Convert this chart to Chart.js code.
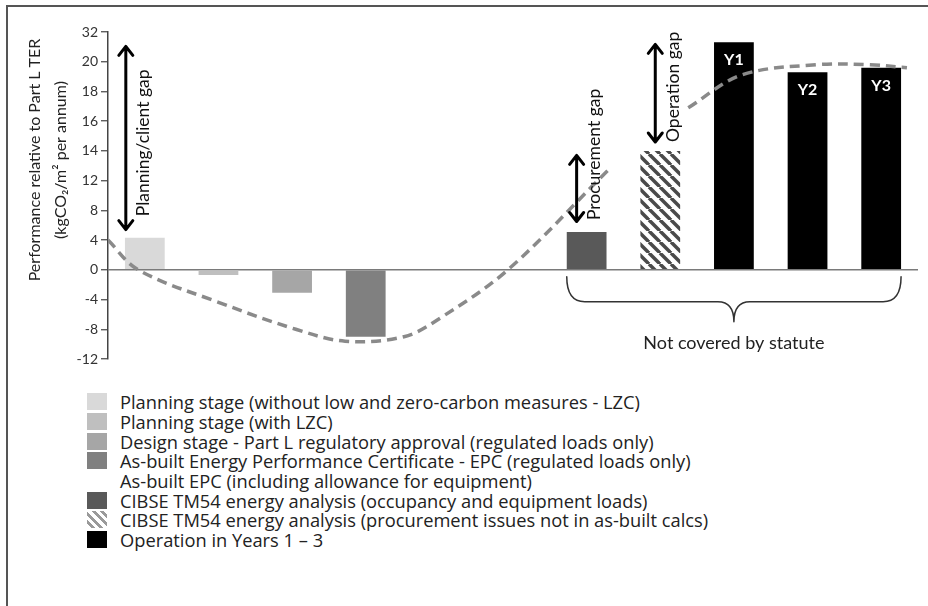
<!DOCTYPE html>
<html>
<head>
<meta charset="utf-8">
<script src="https://cdn.jsdelivr.net/npm/chart.js"></script>
<style>
    body { margin: 0; background: #fff; font-family: "Open Sans", sans-serif; }
    #wrap { position: relative; width: 928px; height: 606px; overflow: hidden; }
    #frame { position: absolute; left: 6px; top: 5px; width: 940px; height: 620px; border-top: 2px solid #555; border-left: 2px solid #555; }
    #chart { position: absolute; left: 0; top: 0; }
    #legend { position: absolute; left: 87px; top: 392px; color: #222; font-size: 18.3px; }
    .leg-row { display: flex; align-items: center; height: 19.7px; white-space: nowrap; }
    .swatch { width: 20px; height: 17px; margin-right: 13px; flex: none; }
</style>
</head>
<body>
<div id="wrap">
    <div id="frame"></div>
    <canvas id="chart" width="928" height="380"></canvas>
    <div id="legend"></div>
</div>
<script>
// y axis is not linear: ticks are evenly spaced but carry these labels
const tickLabels = [-12, -8, -4, 0, 4, 8, 12, 14, 16, 18, 20, 32];

const categories = [
    'Planning stage (without LZC)', 'Planning stage (with LZC)', 'Design stage - Part L',
    'As-built EPC', 'As-built EPC (incl. equipment)', '',
    'CIBSE TM54 (occupancy)', 'CIBSE TM54 (procurement)', 'Y1', 'Y2', 'Y3'
];
const values = [4.3, -0.7, -3.1, -9.0, null, null, 5.1, 14.0, 27.9, 19.3, 19.6];

// dashed trend curve, x in category slots
const curveX = [0, 0.41, 1.51, 2.55, 3.22, 4.02, 4.51, 5.43, 6.79, 7.3, 7.88, 8.6, 9.63, 10.35, 10.85];
const curveY = [4, 0, -4.4, -8, -9.6, -9.0, -6.5, 0, 12.7, null, 16.9, 19.1, 19.8, 19.8, 19.6];

const yearLabels = ['Y1', 'Y2', 'Y3'];
const yearCats = [8, 9, 10];

const gapLabels = ['Planning/client gap', 'Procurement gap', 'Operation gap'];
const gapCats = [0, 6, 7];
const gapFrom = [5.4, 6.5, 14.6];
const gapTo = [26.2, 13.7, 27.0];
const gapTextFrom = [7.2, 6.7, 14.6];

const legendLabels = [
    'Planning stage (without low and zero-carbon measures - LZC)',
    'Planning stage (with LZC)',
    'Design stage - Part L regulatory approval (regulated loads only)',
    'As-built Energy Performance Certificate - EPC (regulated loads only)',
    'As-built EPC (including allowance for equipment)',
    'CIBSE TM54 energy analysis (occupancy and equipment loads)',
    'CIBSE TM54 energy analysis (procurement issues not in as-built calcs)',
    'Operation in Years 1 \u2013 3'
];

const zeroIdx = tickLabels.indexOf(0);
function toAxis(v) {
    if (v == null) return null;
    for (let i = 0; i < tickLabels.length - 1; i++) {
        const a = tickLabels[i], b = tickLabels[i + 1];
        if (v <= b || i === tickLabels.length - 2) return i - zeroIdx + (v - a) / (b - a);
    }
}

function makeHatch(color, bg) {
    const c = document.createElement('canvas');
    c.width = 11; c.height = 11;
    const g = c.getContext('2d');
    g.fillStyle = bg;
    g.fillRect(0, 0, 11, 11);
    g.strokeStyle = color;
    g.lineWidth = 3.5;
    [-11, 0, 11].forEach(o => {
        g.beginPath();
        g.moveTo(o, 0);
        g.lineTo(o + 11, 11);
        g.stroke();
    });
    return g.createPattern(c, 'repeat');
}

const hatch = makeHatch('#4a4a4a', '#ffffff');
const barColors = ['#d9d9d9', '#bfbfbf', '#a6a6a6', '#808080', '#ffffff', '#ffffff', '#595959', hatch, '#000000', '#000000', '#000000'];
const legendSwatches = ['#d9d9d9', '#bfbfbf', '#a6a6a6', '#808080', 'transparent', '#595959',
    'repeating-linear-gradient(45deg, #fff 0 3px, #9a9a9a 3px 6px)', '#000000'];

document.getElementById('legend').innerHTML = legendLabels.map((l, i) => `
    <div class="leg-row"><span class="swatch" style="background:${legendSwatches[i]}"></span>${l}</div>
`).join('');

const FONT = 'Lato, sans-serif';

const annotate = {
    id: 'annotate',
    afterDatasetsDraw(chart) {
        const c = chart.ctx;
        const xs = chart.scales.x, ys = chart.scales.y;
        const bars = chart.getDatasetMeta(1).data;
        const py = v => ys.getPixelForValue(toAxis(v));

        c.save();
        // Y1..Y3 inside bars
        c.fillStyle = '#fff';
        c.font = 'bold 16px ' + FONT;
        c.textAlign = 'center';
        c.textBaseline = 'middle';
        yearCats.forEach((k, i) => c.fillText(yearLabels[i], bars[k].x, bars[k].y + 18));

        // double arrows with labels
        const arrowDx = [-19, -10, -5];
        c.strokeStyle = '#000';
        c.fillStyle = '#111';
        c.lineWidth = 3;
        c.lineCap = 'round';
        c.lineJoin = 'round';
        gapLabels.forEach((label, i) => {
            const ax = xs.getPixelForValue(gapCats[i]) + arrowDx[i];
            const top = py(gapTo[i]), bot = py(gapFrom[i]);
            c.beginPath();
            c.moveTo(ax, top + 1); c.lineTo(ax, bot - 1);
            c.moveTo(ax - 7, top + 9); c.lineTo(ax, top); c.lineTo(ax + 7, top + 9);
            c.moveTo(ax - 7, bot - 9); c.lineTo(ax, bot); c.lineTo(ax + 7, bot - 9);
            c.stroke();
            c.save();
            c.translate(ax + 18, py(gapTextFrom[i]));
            c.rotate(-Math.PI / 2);
            c.font = '17.5px ' + FONT;
            c.textAlign = 'left';
            c.textBaseline = 'middle';
            c.fillText(label, 0, 0);
            c.restore();
        });

        // brace under the non-statutory bars
        const l = bars[6].x - bars[6].width / 2;
        const r = bars[10].x + bars[10].width / 2;
        const m = (l + r) / 2;
        const z = ys.getPixelForValue(0);
        c.strokeStyle = '#333';
        c.lineWidth = 1.5;
        c.beginPath();
        c.moveTo(l, z + 7);
        c.quadraticCurveTo(l, z + 32, l + 18, z + 32);
        c.lineTo(m - 16, z + 32);
        c.quadraticCurveTo(m, z + 32, m, z + 52);
        c.quadraticCurveTo(m, z + 32, m + 16, z + 32);
        c.lineTo(r - 18, z + 32);
        c.quadraticCurveTo(r, z + 32, r, z + 7);
        c.stroke();
        c.fillStyle = '#222';
        c.font = '18px ' + FONT;
        c.textAlign = 'center';
        c.fillText('Not covered by statute', m, z + 73);

        // axis title, two lines
        c.font = '16px ' + FONT;
        c.fillStyle = '#222';
        [['Performance relative to Part L TER', 35], ['(kgCO\u2082/m\u00b2 per annum)', 61]].forEach(([t, x]) => {
            c.save();
            c.translate(x, 160);
            c.rotate(-Math.PI / 2);
            c.fillText(t, 0, 0);
            c.restore();
        });
        c.restore();
    }
};

new Chart(document.getElementById('chart'), {
    type: 'bar',
    data: {
        labels: categories,
        datasets: [
            {
                type: 'line',
                xAxisID: 'xl',
                data: curveX.map((x, i) => ({ x: x, y: toAxis(curveY[i]) })),
                borderColor: '#8a8a8a',
                borderWidth: 3.5,
                borderDash: [10, 6],
                pointRadius: 0,
                tension: 0.35,
                spanGaps: false,
                order: 0
            },
            {
                xAxisID: 'x',
                data: values.map(toAxis),
                backgroundColor: barColors,
                barPercentage: 0.54,
                categoryPercentage: 1,
                grouped: false,
                order: 1
            }
        ]
    },
    options: {
        responsive: false,
        animation: false,
        layout: { padding: { left: 0, right: 10, top: 32, bottom: 21 } },
        plugins: { legend: { display: false }, tooltip: { enabled: false } },
        scales: {
            x: { display: false },
            xl: { type: 'linear', display: false, min: 0, max: 11, offset: false, grid: { offset: false } },
            y: {
                min: -3,
                max: 8,
                afterFit: s => { s.width = 108; },
                ticks: {
                    stepSize: 1,
                    padding: 3,
                    color: '#333',
                    font: { family: FONT, size: 14 },
                    callback: v => tickLabels[v + zeroIdx]
                },
                grid: {
                    color: c => (c.tick && c.tick.value === 0 ? '#7a7a7a' : 'transparent'),
                    lineWidth: 1.5,
                    tickColor: '#444',
                    tickLength: 7,
                    tickWidth: 1.2
                },
                border: { color: '#444', width: 1.5 }
            }
        }
    },
    plugins: [annotate]
});
</script>
</body>
</html>
